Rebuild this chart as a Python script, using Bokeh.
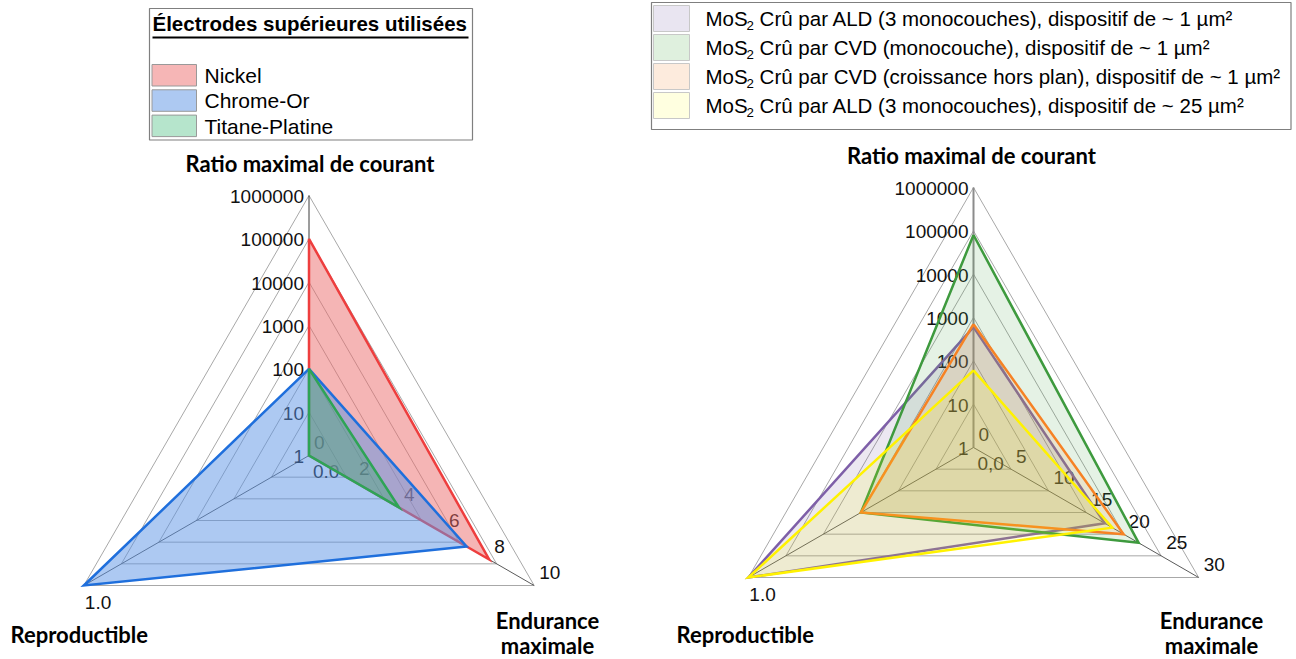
import math
from bokeh.plotting import figure
from bokeh.models import Range1d
from bokeh.core.properties import value
from bokeh.embed import file_html
from bokeh.resources import INLINE

# ---------------- data ----------------
axis_titles = ["Ratio maximal de courant", "Endurance", "maximale", "Reproductible"]

left_legend_title = "Électrodes supérieures utilisées"
left_series = ["Nickel", "Chrome-Or", "Titane-Platine"]
left_ratio = [100000, 100, 100]
left_endurance = [8, 7, 4]
left_repro = [0.0, 1.0, 0.0]

right_series_rest = [
    "Crû par ALD (3 monocouches), dispositif de ~ 1 µm²",
    "Crû par CVD (monocouche), dispositif de ~ 1 µm²",
    "Crû par CVD (croissance hors plan), dispositif de ~ 1 µm²",
    "Crû par ALD (3 monocouches), dispositif de ~ 25 µm²",
]
right_ratio = [600, 80000, 700, 60]
right_endurance = [17.5, 22, 20, 18.5]
right_repro = [1.0, 0.5, 0.5, 1.0]

ratio_ticks = ["1", "10", "100", "1000", "10000", "100000", "1000000"]
left_endurance_ticks = ["0", "2", "4", "6", "8", "10"]
right_endurance_ticks = ["0", "5", "10", "15", "20", "25", "30"]
left_repro_ticks = ["0.0", "1.0"]
right_repro_ticks = ["0,0", "1.0"]

# ---------------- styles ----------------
left_line_colors = ["#EE3E3E", "#1F6FDC", "#2EA455"]
left_fill_colors = ["#EB6B6B", "#5B93E5", "#2EAA64"]
left_fill_alphas = [0.5, 0.5, 0.35]
left_swatch_colors = ["#F6B6B6", "#ADC9F2", "#B6E5CC"]

right_line_colors = ["#7E5FA8", "#3E9A3E", "#F68224", "#FFF200"]
right_fill_colors = ["#8064A2", "#4EA64E", "#F79646", "#FFFF00"]
right_fill_alphas = [0.15, 0.15, 0.15, 0.13]
right_swatch_colors = ["#E9E5F1", "#DFF0DE", "#FDEBDD", "#FFFFE0"]

TICK_FONT = "Liberation Sans"
TITLE_FONT = "Lato"
W, H = 1296, 659

p = figure(width=W, height=H, x_range=Range1d(0, W), y_range=Range1d(H, 0),
           output_backend="svg", toolbar_location=None, x_axis_type=None, y_axis_type=None,
           min_border=0, outline_line_color=None, background_fill_color="white",
           border_fill_color="white")
p.grid.visible = False

C30 = math.cos(math.radians(30))
DIRS = [(0.0, -1.0), (C30, 0.5), (-C30, 0.5)]  # top, bottom-right, bottom-left (screen y down)


def pt(cx, cy, R, axis, frac):
    dx, dy = DIRS[axis]
    return cx + dx * R * frac, cy + dy * R * frac


def txt(x, y, t, size, align="left", color="#111111", font=TICK_FONT, style="normal"):
    p.text(x=[x], y=[y], text=[t], text_align=align, text_baseline="middle",
           text_font=value(font), text_font_size=value(size), text_color=color,
           text_font_style=style)


def draw_radar(cx, cy, R, ratio, endur, repro, emax, etick, rtick,
               lcols, fcols, falphas, top_spoke_color, top_spoke_w):
    # rings
    for k in range(1, 7):
        f = k / 6
        xs = [pt(cx, cy, R, a, f)[0] for a in (0, 1, 2, 0)]
        ys = [pt(cx, cy, R, a, f)[1] for a in (0, 1, 2, 0)]
        p.line(xs, ys, line_color="#A8A8A8", line_width=1)
    # spokes
    for a in range(3):
        x1, y1 = pt(cx, cy, R, a, 1.0)
        col = top_spoke_color if a == 0 else "#5A5A5A"
        w = top_spoke_w if a == 0 else 1
        p.segment(x0=[cx], y0=[cy], x1=[x1], y1=[y1], line_color=col, line_width=w)
    # log ratio ticks
    for i, t in enumerate(ratio_ticks):
        x, y = pt(cx, cy, R, 0, i / 6)
        txt(x - 5, y + 1, t, "19px", align="right", color="#111111")
    # endurance ticks
    n = len(etick) - 1
    for i, t in enumerate(etick):
        x, y = pt(cx, cy, R, 1, i / n)
        txt(x + 5, y - 13, t, "19px", color="#111111")
    # repro ticks
    txt(cx + 4, cy + 16, rtick[0], "19px", color="#111111")
    bx, by = pt(cx, cy, R, 2, 1.0)
    txt(bx + 1, by + 17, rtick[1], "19px", color="#111111")
    # series
    for i in range(len(ratio)):
        f0 = math.log10(ratio[i]) / 6
        f1 = endur[i] / emax
        f2 = repro[i] / 1.0
        pts = [pt(cx, cy, R, 0, f0), pt(cx, cy, R, 1, f1), pt(cx, cy, R, 2, f2)]
        xs = [q[0] for q in pts]
        ys = [q[1] for q in pts]
        p.patch(xs, ys, fill_color=fcols[i], fill_alpha=falphas[i], line_color=None)
        p.line(xs + [xs[0]], ys + [ys[0]], line_color=lcols[i], line_width=2.5,
               line_join="miter")


# left radar
LCX, LCY, R = 308.5, 455, 260
draw_radar(LCX, LCY, R, left_ratio, left_endurance, left_repro, 10,
           left_endurance_ticks, left_repro_ticks,
           left_line_colors, left_fill_colors, left_fill_alphas, "#3A3A3A", 1)
# right radar
RCX, RCY = 973, 447
draw_radar(RCX, RCY, R, right_ratio, right_endurance, right_repro, 30,
           right_endurance_ticks, right_repro_ticks,
           right_line_colors, right_fill_colors, right_fill_alphas, "#8C8C8C", 2)

# axis titles
TS = "22px"
txt(LCX + 1, 163, axis_titles[0], TS, align="center", color="#000000", font=TITLE_FONT, style="bold")
txt(RCX - 2, 155, axis_titles[0], TS, align="center", color="#000000", font=TITLE_FONT, style="bold")
txt(10, 634, axis_titles[3], TS, align="left", color="#000000", font=TITLE_FONT, style="bold")
txt(676, 634, axis_titles[3], TS, align="left", color="#000000", font=TITLE_FONT, style="bold")
for ex in (547, 1211):
    txt(ex, 620, axis_titles[1], TS, align="center", color="#000000", font=TITLE_FONT, style="bold")
    txt(ex, 645, axis_titles[2], TS, align="center", color="#000000", font=TITLE_FONT, style="bold")

# left legend
p.quad(left=[149], right=[472], top=[8], bottom=[139.5], fill_color="white",
       line_color="#7F7F7F", line_width=1.2)
txt(152, 23, left_legend_title, "20.5px", color="#000000", style="bold")
p.segment(x0=[152], y0=[37], x1=[468], y1=[37], line_color="#000000", line_width=2)
for i, name in enumerate(left_series):
    top = 64 + i * 25.3
    p.quad(left=[151.5], right=[196], top=[top], bottom=[top + 21.5],
           fill_color=left_swatch_colors[i], line_color="#999999", line_width=1)
    txt(204, top + 11, name, "21px", color="#000000")

# right legend
p.quad(left=[651], right=[1290.5], top=[2], bottom=[129], fill_color="white",
       line_color="#7F7F7F", line_width=1.2)
F = 20.5
for i, rest in enumerate(right_series_rest):
    cy = 18 + i * 29
    p.quad(left=[653], right=[689], top=[cy - 13], bottom=[cy + 13],
           fill_color=right_swatch_colors[i], line_color="#C8C8C8", line_width=1)
    x0 = 705
    txt(x0, cy, "MoS", f"{F}px", color="#000000")
    wm = 2.0 * F
    txt(x0 + wm, cy + 7, "2", f"{F * 0.65:.1f}px", color="#000000")
    txt(x0 + wm + 0.556 * F * 0.65 + 0.278 * F, cy, rest, f"{F}px", color="#000000")

open("out.html", "w").write(file_html(p, INLINE))
